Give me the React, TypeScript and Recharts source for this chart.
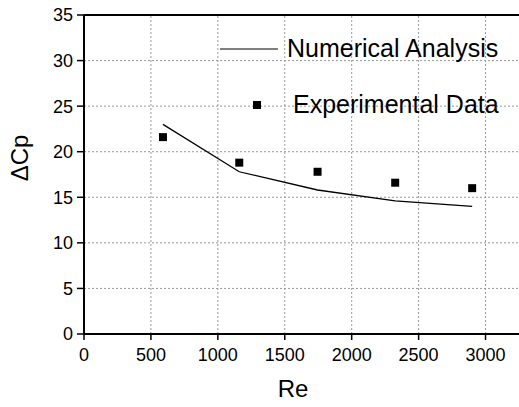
import React from 'react';
import {
  ComposedChart,
  Line,
  Scatter,
  XAxis,
  YAxis,
  ReferenceLine,
  Legend,
  Label,
} from 'recharts';

const FONT = '"Liberation Sans", Arial, Helvetica, sans-serif';

const reValues = [590, 1160, 1745, 2325, 2900];
const numericalValues = [23.0, 17.8, 15.8, 14.6, 14.0];
const experimentalValues = [21.6, 18.8, 17.8, 16.6, 16.0];

const seriesNames = ['Numerical Analysis', 'Experimental Data'];
const axisTitles = { x: 'Re', y: '\u0394Cp' };

const xTicks = [0, 500, 1000, 1500, 2000, 2500, 3000];
const xMinorTicks = [250, 750, 1250, 1750, 2250, 2750];
const yTicks = [0, 5, 10, 15, 20, 25, 30, 35];
const yMinorTicks = [2.5, 7.5, 12.5, 17.5, 22.5, 27.5, 32.5];

const data = reValues.map((re, i) => ({
  re,
  numerical: numericalValues[i],
  experimental: experimentalValues[i],
}));

const renderLegend = (props: any) => {
  const payload = props.payload || [];
  const lineItem = payload.find((p: any) => p.type === 'line') || payload[0];
  const sqItem = payload.find((p: any) => p.type === 'square') || payload[1];
  return (
    <svg width={519} height={130} style={{ display: 'block', fontFamily: FONT }}>
      {lineItem && (
        <g>
          <line x1={220} y1={49} x2={278} y2={49} stroke="#000" strokeWidth={1.2} />
          <text x={287} y={57} fontSize={25} fill="#000">
            {lineItem.value}
          </text>
        </g>
      )}
      {sqItem && (
        <g>
          <rect x={253} y={101} width={8} height={8} fill="#000" />
          <text x={293} y={113} fontSize={25} fill="#000">
            {sqItem.value}
          </text>
        </g>
      )}
    </svg>
  );
};

export default function App() {
  return (
    <div style={{ position: 'absolute', left: 0, top: 0 }}>
      <ComposedChart
        width={519}
        height={407}
        data={data}
        margin={{ top: 15, right: 0, bottom: 0, left: 24 }}
        style={{ fontFamily: FONT }}
      >
        <XAxis
          xAxisId="minor"
          type="number"
          dataKey="re"
          domain={[0, 3250]}
          ticks={xMinorTicks}
          interval={0}
          height={0}
          axisLine={false}
          tickSize={4}
          tickLine={{ stroke: '#000', strokeWidth: 1.5 }}
          tickFormatter={() => ''}
        />
        <XAxis
          type="number"
          dataKey="re"
          domain={[0, 3250]}
          ticks={xTicks}
          interval={0}
          height={73}
          tickSize={6}
          tickMargin={8}
          axisLine={{ stroke: '#000', strokeWidth: 2 }}
          tickLine={{ stroke: '#000', strokeWidth: 1.5 }}
          tick={{ fill: '#000', fontSize: 18, fontFamily: FONT }}
        >
          <Label
            content={() => (
              <text
                x={293}
                y={397}
                textAnchor="middle"
                fontSize={24}
                fontFamily={FONT}
                fill="#000"
              >
                {axisTitles.x}
              </text>
            )}
          />
        </XAxis>
        <YAxis
          yAxisId="minor"
          type="number"
          domain={[0, 35]}
          ticks={yMinorTicks}
          interval={0}
          width={0}
          axisLine={false}
          tickSize={4}
          tickLine={{ stroke: '#000', strokeWidth: 1.5 }}
          tickFormatter={() => ''}
        />
        <YAxis
          type="number"
          domain={[0, 35]}
          ticks={yTicks}
          interval={0}
          width={60}
          tickSize={7}
          tickMargin={4}
          axisLine={{ stroke: '#000', strokeWidth: 2 }}
          tickLine={{ stroke: '#000', strokeWidth: 1.5 }}
          tick={{ fill: '#000', fontSize: 18, fontFamily: FONT }}
        >
          <Label
            content={() => (
              <text
                x={28}
                y={158}
                transform="rotate(-90 28 158)"
                textAnchor="middle"
                fontSize={24}
                fontFamily={FONT}
                fill="#000"
              >
                {axisTitles.y}
              </text>
            )}
          />
        </YAxis>
        {xTicks
          .filter((v) => v > 0)
          .map((v) => (
            <ReferenceLine
              key={'gx' + v}
              x={v}
              stroke="#999"
              strokeWidth={1}
              strokeDasharray="2 2"
            />
          ))}
        {yTicks
          .filter((v) => v > 0 && v < 35)
          .map((v) => (
            <ReferenceLine
              key={'gy' + v}
              y={v}
              stroke="#999"
              strokeWidth={1}
              strokeDasharray="2 2"
            />
          ))}
        <ReferenceLine y={35} stroke="#000" strokeWidth={2} />
        <Line
          type="linear"
          dataKey="numerical"
          name={seriesNames[0]}
          stroke="#000"
          strokeWidth={1.3}
          dot={false}
          legendType="line"
          isAnimationActive={false}
        />
        <Scatter
          dataKey="experimental"
          name={seriesNames[1]}
          fill="#000"
          shape="square"
          legendType="square"
          isAnimationActive={false}
        />
        <Legend
          layout="horizontal"
          verticalAlign="middle"
          align="center"
          content={renderLegend}
          wrapperStyle={{ left: 0, top: 0, width: 519, height: 130, pointerEvents: 'none' }}
        />
      </ComposedChart>
    </div>
  );
}
